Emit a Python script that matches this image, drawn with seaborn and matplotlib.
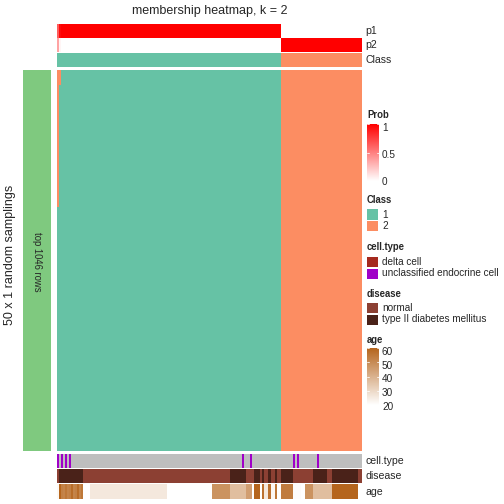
import numpy as np
import pandas as pd
import matplotlib
matplotlib.use("Agg")
import matplotlib.pyplot as plt
import seaborn as sns
from matplotlib.colors import ListedColormap, LinearSegmentedColormap
from matplotlib.patches import Rectangle

# ---------------- data ----------------
n_class1 = 110
n_class2 = 40
n_samplings = 50
top_rows = 1046

# number of samplings (from the top) in which a sample was assigned to the other class
flipped_counts = {0: 18, 1: 2}

# p1 probability for the ambiguous samples; others are 1 (class 1) or 0 (class 2)
p1_special = {0: 0.64, 1: 0.96}

cell_type_levels = ["NA", "delta cell", "unclassified endocrine cell"]
cell_type_unclassified = [0, 2, 4, 6, 91, 95, 116, 118, 128]

disease_levels = ["normal", "type II diabetes mellitus"]
disease_runs = [(0, 1), (1, 12), (0, 72), (1, 8), (0, 4), (1, 3), (0, 1), (1, 1),
                (0, 2), (1, 1), (0, 2), (1, 1), (0, 2), (1, 6), (0, 10), (1, 7),
                (0, 2), (1, 13), (0, 2)]

age_first_block = [60, 53, 52, 55, 52, 53, 58, 52, 53, 58, 52, 55]
age_runs = [(22, 1)] + [(a, 1) for a in age_first_block] + [
    (20, 3), (26, 38), (20, 22), (48, 9), (37, 8), (45, 3), (20, 1), (60, 3),
    (20, 1), (57, 1), (26, 2), (57, 1), (22, 2), (55, 1), (20, 2), (54, 6),
    (21, 4), (20, 2), (48, 4), (37, 9), (60, 13), (20, 2)]

# ---------------- build tables ----------------
n = n_class1 + n_class2
class_label = np.array([1] * n_class1 + [2] * n_class2)
p1 = np.where(class_label == 1, 1.0, 0.0)
for k, v in p1_special.items():
    p1[k] = v
p2 = 1 - p1

member = np.tile(class_label - 1, (n_samplings, 1)).astype(float)
for col, cnt in flipped_counts.items():
    member[:cnt, col] = 1 - member[0, col]

cell_type = np.zeros(n)
cell_type[cell_type_unclassified] = 2
disease = np.concatenate([[v] * k for v, k in disease_runs]).astype(float)
age = np.concatenate([[v] * k for v, k in age_runs]).astype(float)

# ---------------- styling ----------------
sns.set_style("white")
plt.rcParams["font.family"] = ["Liberation Sans", "DejaVu Sans"]

W = H = 504
fig = plt.figure(figsize=(7, 7), dpi=72)


def ax_px(x0, y0, x1, y1):
    return fig.add_axes([x0 / W, 1 - y1 / H, (x1 - x0) / W, (y1 - y0) / H])


def fx(x):
    return x / W


def fy(y):
    return 1 - y / H


c1, c2 = "#66C2A5", "#FC8D62"
class_cmap = ListedColormap([c1, c2])
prob_cmap = LinearSegmentedColormap.from_list("prob", ["#FFFFFF", "#FF0000"])
ct_cmap = ListedColormap(["#BEBEBE", "#A52A1F", "#A000C8"])
dis_cmap = ListedColormap(["#8C4033", "#4A2219"])
age_cmap = LinearSegmentedColormap.from_list("age", ["#FFFFFF", "#B5651D"])

X0, X1 = 57, 362
hm_kw = dict(xticklabels=False, yticklabels=False, cbar=False)

# top annotations
ax = ax_px(X0, 24, X1, 52)
sns.heatmap(pd.DataFrame([p1, p2], index=["p1", "p2"]), ax=ax, cmap=prob_cmap,
            vmin=0, vmax=1, **hm_kw)
ax = ax_px(X0, 53, X1, 67)
sns.heatmap(pd.DataFrame([class_label - 1]), ax=ax, cmap=class_cmap, vmin=0, vmax=1, **hm_kw)

# main heatmap
ax = ax_px(X0, 70, X1, 451)
sns.heatmap(pd.DataFrame(member), ax=ax, cmap=class_cmap, vmin=0, vmax=1, **hm_kw)

# bottom annotations
ax = ax_px(X0, 454, X1, 468)
sns.heatmap(pd.DataFrame([cell_type]), ax=ax, cmap=ct_cmap, vmin=0, vmax=2, **hm_kw)
ax = ax_px(X0, 469, X1, 483)
sns.heatmap(pd.DataFrame([disease]), ax=ax, cmap=dis_cmap, vmin=0, vmax=1, **hm_kw)
ax = ax_px(X0, 484, X1, 499)
sns.heatmap(pd.DataFrame([age]), ax=ax, cmap=age_cmap, vmin=20, vmax=60, **hm_kw)

# annotation names
for lab, yc in [("p1", 31), ("p2", 45), ("Class", 60), ("cell.type", 461),
                ("disease", 476), ("age", 492)]:
    fig.text(fx(365), fy(yc), lab, fontsize=10.5, va="center", ha="left")

# left slice bar
ax = ax_px(23, 70, 51, 451)
ax.set_facecolor("#7FC97F")
ax.set_xticks([]); ax.set_yticks([])
for s in ax.spines.values():
    s.set_visible(False)
fig.text(fx(37), fy(262), f"top {top_rows} rows", rotation=270, fontsize=9.5,
         ha="center", va="center")
fig.text(fx(10), fy(255), f"{n_samplings} x 1 random samplings", rotation=90,
         fontsize=12.5, ha="center", va="center")

fig.text(fx(209.5), fy(11), "membership heatmap, k = 2", fontsize=12.5,
         ha="center", va="center")

# ---------------- legends ----------------
LX = 367
lab_fs = 10
tit_fs = 9.5


def colorbar(y0, y1, ly0, ly1, cmap, vmin, vmax, ticks):
    cax = ax_px(LX, y0, LX + 12, y1)
    grad = np.linspace(vmax, vmin, 200).reshape(-1, 1)
    cax.imshow(grad, aspect="auto", cmap=cmap, vmin=vmin, vmax=vmax,
               extent=[0, 1, vmin, vmax])
    cax.set_xlim(0, 1); cax.set_ylim(vmin, vmax)
    cax.set_xticks([]); cax.set_yticks([])
    for s in cax.spines.values():
        s.set_visible(False)
    for t, lab in ticks:
        cax.plot([0, 0.2], [t, t], color="white", lw=0.8)
        cax.plot([0.8, 1], [t, t], color="white", lw=0.8)
        ypx = ly1 - (t - vmin) / (vmax - vmin) * (ly1 - ly0)
        fig.text(fx(LX + 15), fy(ypx), lab, fontsize=lab_fs, va="center", ha="left")


def swatches(y_start, items):
    for i, (col, lab) in enumerate(items):
        y0 = y_start + i * 11.5
        fig.patches.append(Rectangle((fx(LX), fy(y0 + 10)), 11 / W, 10 / H,
                                     transform=fig.transFigure, facecolor=col,
                                     edgecolor="none"))
        fig.text(fx(LX + 15), fy(y0 + 5), lab, fontsize=lab_fs, va="center", ha="left")


fig.text(fx(LX), fy(115), "Prob", fontsize=tit_fs, fontweight="bold", va="center")
colorbar(124, 181, 128, 182, prob_cmap, 0, 1, [(1, "1"), (0.5, "0.5"), (0, "0")])

fig.text(fx(LX), fy(200), "Class", fontsize=tit_fs, fontweight="bold", va="center")
swatches(209.5, [(c1, "1"), (c2, "2")])

fig.text(fx(LX), fy(247), "cell.type", fontsize=tit_fs, fontweight="bold", va="center")
swatches(257, [("#A52A1F", "delta cell"), ("#A000C8", "unclassified endocrine cell")])

fig.text(fx(LX), fy(294), "disease", fontsize=tit_fs, fontweight="bold", va="center")
swatches(303, [("#8C4033", "normal"), ("#4A2219", "type II diabetes mellitus")])

fig.text(fx(LX), fy(340), "age", fontsize=tit_fs, fontweight="bold", va="center")
colorbar(348, 405, 352, 407, age_cmap, 20, 60,
         [(60, "60"), (50, "50"), (40, "40"), (30, "30"), (20, "20")])

fig.savefig("out.png", dpi=72)
